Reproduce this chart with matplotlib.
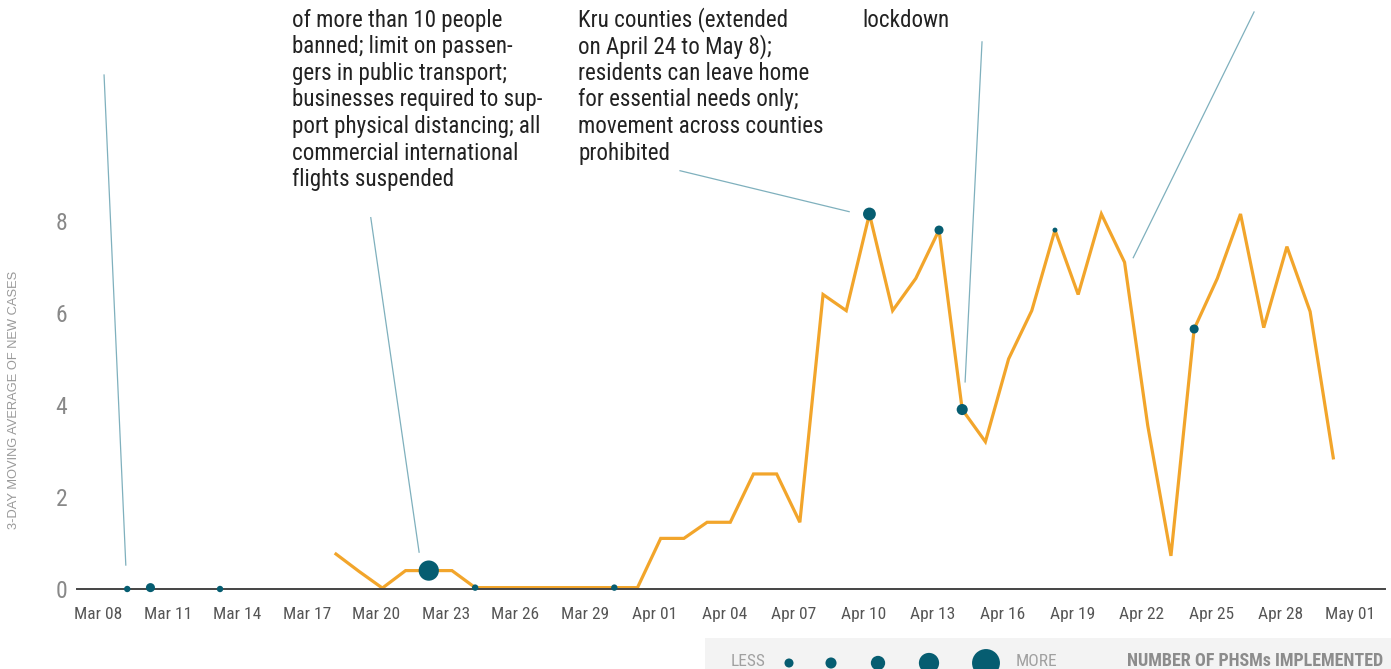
import matplotlib
matplotlib.use("Agg")
import matplotlib.pyplot as plt
import matplotlib.dates as mdates
import matplotlib.transforms as mtransforms
import numpy as np
import pandas as pd

plt.rcParams['font.family'] = ['Roboto Condensed', 'Liberation Sans Narrow', 'Roboto', 'DejaVu Sans']

# 3-day moving average of new cases, Mar 18 - Apr 30
line_dates = pd.date_range("2020-03-18", "2020-04-30", freq="D")
line_values = [0.76, 0.38, 0.02, 0.4, 0.4, 0.4, 0.03, 0.03, 0.03, 0.03, 0.03, 0.03, 0.03, 0.03,
               1.1, 1.1, 1.45, 1.45, 2.5, 2.5, 1.45, 6.4, 6.05, 8.15, 6.05, 6.75, 7.8, 3.9,
               3.2, 5.0, 6.05, 7.8, 6.4, 8.15, 7.1, 3.55, 0.72, 5.65, 6.75, 8.15, 5.68, 7.44,
               6.03, 2.85]

# days on which public health and social measures (PHSMs) were implemented
phsm_dates = pd.to_datetime(["2020-03-09", "2020-03-10", "2020-03-13", "2020-03-22", "2020-03-24",
                             "2020-03-30", "2020-04-10", "2020-04-13", "2020-04-14", "2020-04-18",
                             "2020-04-24"])
phsm_values = [0, 0.03, 0, 0.4, 0.03, 0.03, 8.15, 7.8, 3.9, 7.8, 5.65]
phsm_counts = [1, 2, 1, 10, 1, 1, 4, 2, 3, 0.6, 2]

legend_counts = [2, 3, 5, 10, 19]

tick_dates = pd.date_range("2020-03-08", "2020-05-01", freq="3D")
y_ticks = [0, 2, 4, 6, 8]

# annotation texts (their first lines are cut off at the top of the picture)
notes = [
    ("2020-03-16 02:00", ["of more than 10 people", "banned; limit on passen-",
                          "gers in public transport;", "businesses required to sup-",
                          "port physical distancing; all", "commercial international",
                          "flights suspended"]),
    ("2020-03-28 10:30", ["Kru counties (extended", "on April 24 to May 8);",
                          "residents can leave home", "for essential needs only;",
                          "movement across counties", "prohibited"]),
    ("2020-04-09 17:00", ["lockdown"]),
]
# leader lines: (start date, start y, end date, end y)
leaders = [
    ("2020-03-08 00:00", 11.17, "2020-03-08 22:30", 0.52),
    ("2020-03-19 12:00", 8.07, "2020-03-21 14:00", 0.80),
    ("2020-04-01 20:00", 9.09, "2020-04-09 03:00", 8.20),
    ("2020-04-14 20:30", 11.89, "2020-04-14 03:00", 4.50),
    ("2020-04-26 14:00", 12.54, "2020-04-21 09:00", 7.20),
]

ORANGE = '#f2a52b'
TEAL = '#065d71'
LEADER = '#7fb0bd'

W, H = 1391, 669
fig = plt.figure(figsize=(W / 100, H / 100), dpi=100)
ax = fig.add_axes([77 / W, (H - 589) / H, (1385 - 77) / W, 589 / H])

for s_d, s_y, e_d, e_y in leaders:
    ax.plot([pd.Timestamp(s_d), pd.Timestamp(e_d)], [s_y, e_y], color=LEADER,
            lw=0.9, zorder=1, clip_on=False)

ax.plot(line_dates, line_values, color=ORANGE, lw=2.3, zorder=2, solid_joinstyle='miter')

def radius_to_s(r_px):
    return (2 * r_px * 0.72) ** 2

sizes = [radius_to_s(3.2 * np.sqrt(c)) for c in phsm_counts]
ax.scatter(phsm_dates, phsm_values, s=sizes, color=TEAL, zorder=3, clip_on=False, lw=0)

ax.set_xlim(pd.Timestamp("2020-03-06 20:00"), pd.Timestamp("2020-05-02 05:30"))
ax.set_ylim(0, 12.8)

for sp in ['top', 'right', 'left']:
    ax.spines[sp].set_visible(False)
ax.spines['bottom'].set_color('#444444')
ax.spines['bottom'].set_linewidth(1.4)

ax.set_xticks(tick_dates)
ax.set_xticklabels([d.strftime("%b %d") for d in tick_dates], fontsize=12.5, color='#555555')
ax.set_yticks(y_ticks)
ax.set_yticklabels([str(v) for v in y_ticks], fontsize=17, color='#888888')
ax.tick_params(axis='x', length=0, pad=13)
ax.tick_params(axis='y', length=0, pad=7)
shift = mtransforms.ScaledTranslation(-6 / 100, 0, fig.dpi_scale_trans)
for lab in ax.get_xticklabels():
    lab.set_transform(lab.get_transform() + shift)

fig.text(14 / W, 1 - 400 / H, "3-DAY MOVING AVERAGE OF NEW CASES", rotation=90,
         ha='center', va='center', fontsize=9.3, color='#999999',
         family=['Liberation Sans', 'DejaVu Sans'])

# annotation blocks
for anchor, lines in notes:
    xa = mdates.date2num(pd.Timestamp(anchor))
    for i, txt in enumerate(lines):
        ax.text(xa, 12.22 - i * 0.578, txt, ha='left', va='baseline', fontsize=16.6,
                color='#222222', clip_on=False)

# size legend band
lg = fig.add_axes([705 / W, 0, (W - 705) / W, 31 / H])
lg.set_facecolor('#f3f3f3')
lg.set_xlim(0, W - 705)
lg.set_ylim(0, 31)
lg.set_xticks([])
lg.set_yticks([])
for sp in lg.spines.values():
    sp.set_visible(False)
leg_x = [84, 126, 173, 224, 281]
lg.scatter(leg_x, [6] * len(leg_x), s=[radius_to_s(3.2 * np.sqrt(c)) for c in legend_counts],
           color=TEAL, lw=0, clip_on=True)
lg.text(43, 8, "LESS", ha='center', va='center', fontsize=12.5, color='#a0a0a0')
lg.text(331, 8, "MORE", ha='center', va='center', fontsize=12.5, color='#a0a0a0')
lg.text(678, 8.5, "NUMBER OF PHSMs IMPLEMENTED", ha='right', va='center', fontsize=13,
        color='#8c8c8c', fontweight='bold')

fig.savefig("out.png", dpi=100)
